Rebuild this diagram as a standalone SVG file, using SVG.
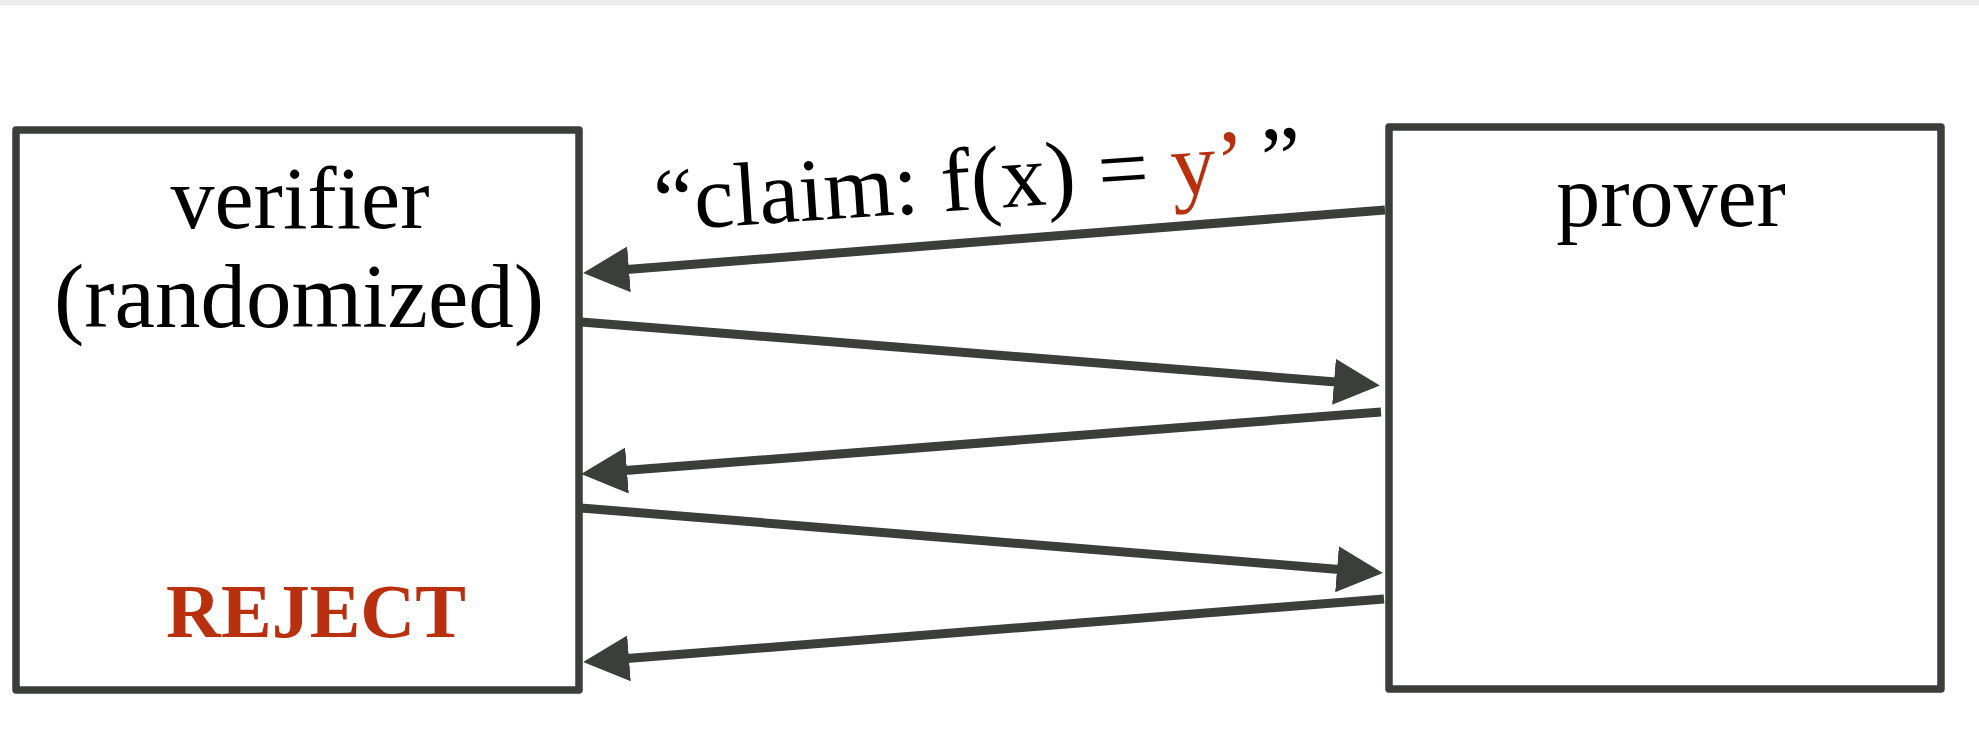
<svg xmlns="http://www.w3.org/2000/svg" width="1979" height="736" viewBox="0 0 1979 736">
<style>
.box{fill:#ffffff;stroke:#3b3e39;stroke-width:7.5;stroke-linejoin:round}
.lbl{font-family:"Liberation Serif","Times New Roman",serif;font-size:88px;fill:#000000}
.red{fill:#b9300f}
.conn line{stroke:#3b3e39;stroke-width:9;marker-end:url(#ah)}
</style>
<defs>
<marker id="ah" markerUnits="userSpaceOnUse" markerWidth="46" markerHeight="46" viewBox="0 0 46 46" refX="2" refY="23" orient="auto">
<path d="M0,0 L46,23 L0,46 z" fill="#3b3e39"/>
</marker>
</defs>
<rect x="0" y="0" width="1979" height="736" fill="#ffffff"/>
<rect x="0" y="0" width="1979" height="5" fill="#ececec"/>
<g id="verifier">
<rect class="box" x="16" y="130" width="563" height="560"/>
<text class="lbl" x="300" y="228" text-anchor="middle" font-size="87">verifier</text>
<text class="lbl" x="299" y="327" text-anchor="middle" style="font-size:91px">(randomized)</text>
<text x="316" y="637" text-anchor="middle" font-family="'Liberation Serif','Times New Roman',serif" font-size="76" font-weight="bold" class="red">REJECT</text>
</g>
<g id="prover">
<rect class="box" x="1389" y="127" width="552" height="562"/>
<text class="lbl" x="1671" y="226" text-anchor="middle">prover</text>
</g>
<g id="connectors" class="conn">
<line x1="1385" y1="210" x2="627" y2="269.5"/>
<line x1="581" y1="322" x2="1336" y2="381.9"/>
<line x1="1381" y1="412" x2="625" y2="470.6"/>
<line x1="581" y1="508" x2="1339" y2="569.4"/>
<line x1="1384" y1="599" x2="627" y2="658.5"/>
</g>
<g id="claim-label">
<text class="lbl" x="656" y="231" transform="rotate(-3.9 656 231)" style="font-size:90px">“claim: f(x) = <tspan class="red">y’</tspan> ”</text>
</g>
</svg>
